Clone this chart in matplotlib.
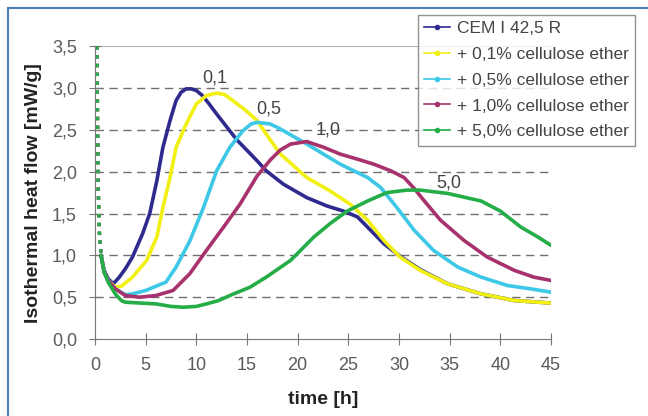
import matplotlib
matplotlib.use("Agg")
import matplotlib.pyplot as plt
from matplotlib.lines import Line2D

plt.rcParams['font.family'] = ['Liberation Sans', 'DejaVu Sans']

# initial drop shared by all mixes (dotted in the original)
t_start = [0.2, 0.25, 0.32, 0.42, 0.6]
q_start = [3.5, 2.6, 1.8, 1.3, 1.0]

t_cem = [0.9, 1.3, 1.8, 2.4, 3.0, 3.7, 4.7, 5.4, 6.1, 6.7, 7.4, 8.0, 8.5, 9.0, 9.5, 10.0,
         10.6, 11.2, 12.0, 14.0, 16.0, 16.9, 18.6, 20.9, 22.9, 24.5, 25.9, 27.2, 28.5,
         30.1, 32.1, 34.8, 38.1, 41.4, 45.0]
q_cem = [0.82, 0.72, 0.66, 0.74, 0.84, 0.98, 1.26, 1.50, 1.89, 2.29, 2.61, 2.85, 2.95,
         2.99, 2.99, 2.97, 2.91, 2.82, 2.69, 2.38, 2.13, 2.01, 1.85, 1.69, 1.59, 1.53,
         1.46, 1.30, 1.14, 0.99, 0.83, 0.66, 0.54, 0.46, 0.43]

t_01 = [0.9, 1.3, 2.0, 2.6, 3.7, 5.1, 6.1, 6.7, 7.4, 8.0, 9.0, 10.0, 11.0, 12.0,
        12.8, 13.6, 14.8, 16.0, 17.3, 18.3, 20.9, 23.2, 25.2, 26.9, 28.5, 30.1, 32.1,
        34.8, 38.1, 41.4, 45.0]
q_01 = [0.8, 0.7, 0.62, 0.63, 0.74, 0.94, 1.22, 1.57, 1.93, 2.29, 2.57, 2.81, 2.91,
        2.94, 2.92, 2.85, 2.74, 2.61, 2.38, 2.21, 1.93, 1.77, 1.61, 1.42, 1.18, 0.98,
        0.82, 0.66, 0.54, 0.46, 0.43]

t_05 = [0.9, 1.3, 2.0, 3.0, 3.7, 5.0, 7.0, 8.0, 9.35, 10.7, 12.0, 13.3, 14.6, 15.4,
        16.0, 17.3, 18.3, 20.9, 24.2, 26.9, 28.2, 29.8, 31.5, 33.4, 35.8, 38.1, 40.7,
        43.0, 45.0]
q_05 = [0.8, 0.7, 0.6, 0.53, 0.54, 0.58, 0.68, 0.86, 1.17, 1.57, 2.01, 2.29, 2.49,
        2.57, 2.59, 2.57, 2.51, 2.33, 2.09, 1.93, 1.81, 1.57, 1.30, 1.06, 0.86, 0.74,
        0.64, 0.60, 0.56]

t_10 = [0.9, 1.3, 2.0, 3.0, 4.4, 6.0, 7.7, 9.35, 11.0, 12.7, 14.3, 16.0, 17.3, 18.3, 19.3,
        20.9, 22.6, 24.2, 25.9, 27.5, 29.2, 30.5, 31.5, 32.5, 34.1, 36.4, 38.7, 41.4,
        43.3, 45.0]
q_10 = [0.8, 0.7, 0.6, 0.52, 0.5, 0.52, 0.58, 0.78, 1.06, 1.34, 1.61, 1.95, 2.14, 2.26,
        2.33, 2.36, 2.29, 2.21, 2.15, 2.09, 2.01, 1.93, 1.80, 1.65, 1.42, 1.18, 0.98,
        0.82, 0.74, 0.70]

t_50 = [0.9, 1.3, 2.0, 2.6, 3.0, 4.5, 6.0, 7.5, 8.7, 10.0, 11.0, 12.2, 13.3, 15.3, 16.9,
        19.3, 21.6, 23.2, 24.9, 26.9, 28.8, 30.8, 32.1, 34.8, 38.1, 40.0, 42.0, 43.7, 45.0]
q_50 = [0.8, 0.68, 0.54, 0.46, 0.44, 0.43, 0.42, 0.39, 0.38, 0.39, 0.42, 0.46, 0.52,
        0.62, 0.74, 0.94, 1.22, 1.38, 1.53, 1.65, 1.75, 1.78, 1.78, 1.74, 1.65, 1.53,
        1.34, 1.22, 1.12]

series = [
    ("CEM I 42,5 R", t_cem, q_cem, "#2e2a8e"),
    ("+ 0,1% cellulose ether", t_01, q_01, "#f2ef12"),
    ("+ 0,5% cellulose ether", t_05, q_05, "#3cc8e6"),
    ("+ 1,0% cellulose ether", t_10, q_10, "#a8326e"),
    ("+ 5,0% cellulose ether", t_50, q_50, "#25ad48"),
]

peak_labels = ["0,1", "0,5", "1,0", "5,0"]
peak_pos = [(11.8, 3.12), (17.1, 2.75), (23.0, 2.5), (34.9, 1.86)]

fig = plt.figure(figsize=(6.48, 4.16), dpi=100)
ax = fig.add_axes([0.1466, 0.185, 0.7037, 0.704])

for name, t, q, c in series:
    ax.plot(t_start[-1:] + t, q_start[-1:] + q, color=c, lw=2.6,
            solid_capstyle="round", solid_joinstyle="round")
    ax.plot(t_start, q_start, color=c, ls=":", lw=2.4)

for lab, (x, y) in zip(peak_labels, peak_pos):
    ax.text(x, y, lab, fontsize=13, color="#444444", ha="center", va="center")

ax.set_xlim(0, 45)
ax.set_ylim(0, 3.5)
ax.set_xticks(range(0, 46, 5))
yt = [0, 0.5, 1.0, 1.5, 2.0, 2.5, 3.0, 3.5]
ax.set_yticks(yt)
ax.set_yticklabels([f"{v:.1f}".replace(".", ",") for v in yt])
for v in yt[1:-1]:
    ax.axhline(v, color="#707070", ls=(0, (6, 4)), lw=1.0, zorder=0)
ax.axhline(3.5, color="#b0b0b0", lw=0.8, zorder=0)
ax.axvline(45, color="#d8d8d8", lw=0.8, zorder=0)

for s in ["top", "right"]:
    ax.spines[s].set_visible(False)
for s in ["left", "bottom"]:
    ax.spines[s].set_color("#777777")
ax.tick_params(direction="inout", length=8, color="#777777", labelsize=13,
               labelcolor="#5a5a5a")
ax.tick_params(axis="y", pad=9)
ax.tick_params(axis="x", pad=9)

ax.set_xlabel("time [h]", fontsize=14, fontweight="bold", color="#222222", labelpad=12)
ax.set_ylabel("Isothermal heat flow [mW/g]", fontsize=14, fontweight="bold",
              color="#222222", labelpad=7)

handles = [Line2D([], [], color=c, lw=1.2, marker="o", markersize=3) for _, _, _, c in series]
leg = fig.legend(handles, [s[0] for s in series], loc="upper left",
                 bbox_to_anchor=(0.645, 0.965), fontsize=12.5, frameon=True,
                 fancybox=False, edgecolor="#777777", handlelength=1.5,
                 labelspacing=0.62, borderpad=0.35, handletextpad=0.4,
                 borderaxespad=0)
leg.get_frame().set_linewidth(1.0)
for txt in leg.get_texts():
    txt.set_color("#444444")

# frame around the figure
fig.add_artist(Line2D([0.013, 0.013], [0, 0.981], color="#4a7fb8", lw=1.5))
fig.add_artist(Line2D([0.013, 1.0], [0.981, 0.981], color="#4a7fb8", lw=1.5))

fig.savefig("out.png", dpi=100)
